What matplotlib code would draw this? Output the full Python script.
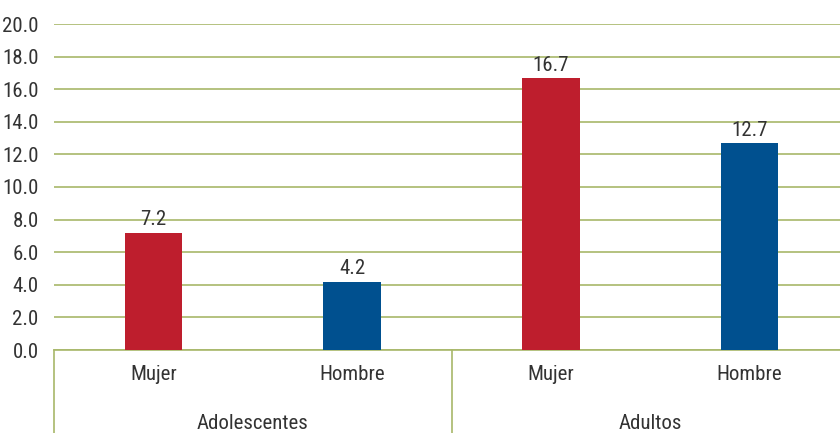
import matplotlib.pyplot as plt
from matplotlib import transforms

plt.rcParams['font.family'] = ['Liberation Sans Narrow', 'Roboto Condensed', 'DejaVu Sans Condensed', 'Roboto', 'DejaVu Sans']
plt.rcParams['font.stretch'] = 'condensed'

groups = ['Adolescentes', 'Adultos']
sexes = ['Mujer', 'Hombre']
values = [7.2, 4.2, 16.7, 12.7]
colors = ['#BE1E2D', '#00508F', '#BE1E2D', '#00508F']
yticks = [0, 2, 4, 6, 8, 10, 12, 14, 16, 18, 20]

grid_color = '#A8B86A'
text_color = '#333333'
fs = 15

fig = plt.figure(figsize=(8.4, 4.33), dpi=100)
# axes run slightly past the right edge, like the original
ax = fig.add_axes([54 / 840, 83 / 433, 795 / 840, 326 / 433])

x = list(range(len(values)))
labels = sexes * len(groups)
bars = ax.bar(x, values, width=0.29, color=colors, zorder=3)
for b, v in zip(bars, values):
    ax.text(b.get_x() + b.get_width() / 2, v + 0.2, f'{v:.1f}',
            ha='center', va='bottom', fontsize=fs, color=text_color)

ax.set_xlim(-0.5, len(values) - 0.5)
ax.set_ylim(0, 20)
ax.set_yticks(yticks)
ax.set_yticklabels([f'{t:.1f}' for t in yticks], fontsize=fs, color=text_color)
ax.yaxis.grid(True, color=grid_color, linewidth=1.2, zorder=0)
ax.set_axisbelow(True)
ax.tick_params(axis='y', length=0, pad=11)
ax.set_xticks(x)
ax.set_xticklabels(labels, fontsize=fs, color=text_color)
ax.tick_params(axis='x', length=0, pad=11)
for s in ['top', 'right', 'left']:
    ax.spines[s].set_visible(False)
ax.spines['bottom'].set_color(grid_color)
ax.spines['bottom'].set_linewidth(1.2)

# group labels and separators below the axis
trans = transforms.blended_transform_factory(ax.transData, ax.transAxes)
n = len(sexes)
for i, g in enumerate(groups):
    center = i * n + (n - 1) / 2
    ax.text(center, -0.225, g, transform=trans, ha='center', va='center',
            fontsize=fs, color=text_color)
for i in range(len(groups) + 1):
    xs = i * n - 0.5
    ax.plot([xs, xs], [0, -0.26], transform=trans, color=grid_color,
            linewidth=1.2, clip_on=False)

fig.savefig('out.png', dpi=100)
